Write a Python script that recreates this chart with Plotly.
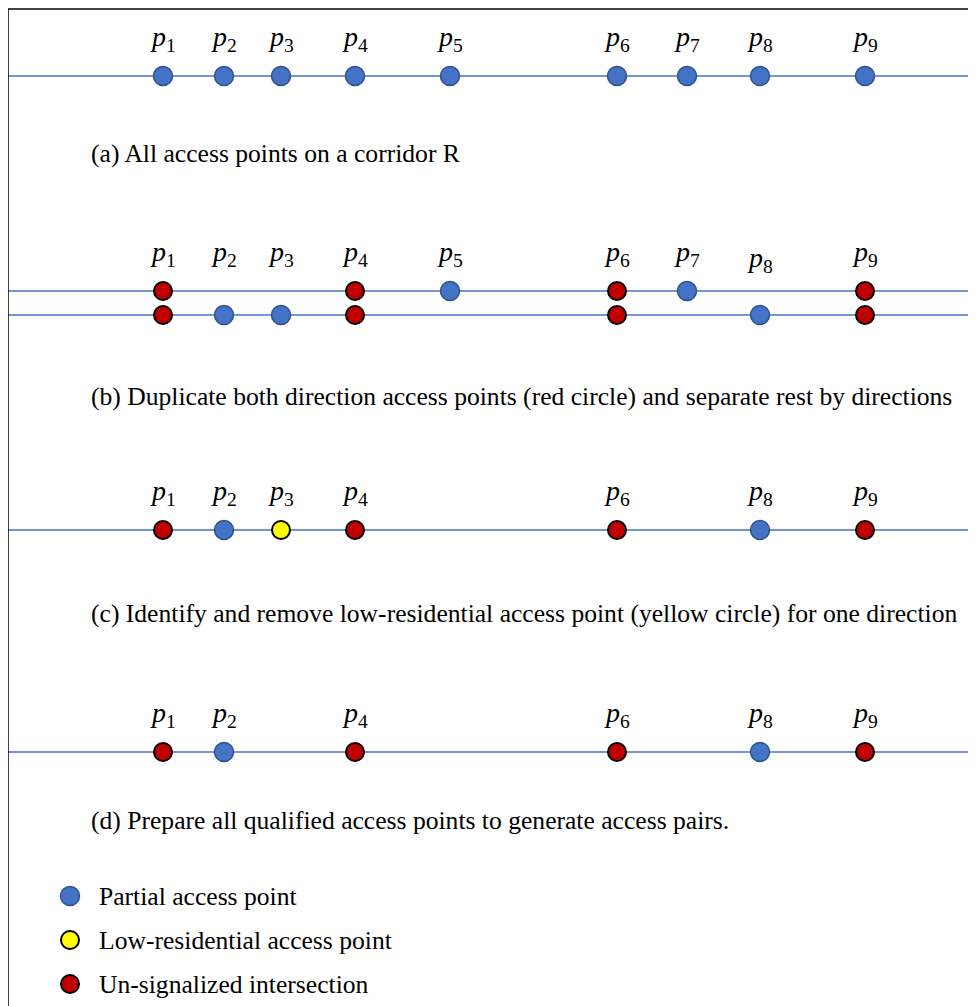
import plotly.graph_objects as go

# ---- data ----
point_ids = [1, 2, 3, 4, 5, 6, 7, 8, 9]
point_pos = [163, 224, 281, 355, 450, 617, 687, 760, 865]

# kind codes: "B" partial (blue), "R" un-signalized (red), "Y" low-residential (yellow)
row_a_ids = [1, 2, 3, 4, 5, 6, 7, 8, 9]
row_a_kind = ["B", "B", "B", "B", "B", "B", "B", "B", "B"]
row_b_up_ids = [1, 4, 5, 6, 7, 9]
row_b_up_kind = ["R", "R", "B", "R", "B", "R"]
row_b_lo_ids = [1, 2, 3, 4, 6, 8, 9]
row_b_lo_kind = ["R", "B", "B", "R", "R", "B", "R"]
row_c_ids = [1, 2, 3, 4, 6, 8, 9]
row_c_kind = ["R", "B", "Y", "R", "R", "B", "R"]
row_d_ids = [1, 2, 4, 6, 8, 9]
row_d_kind = ["R", "B", "R", "R", "B", "R"]

label_a_ids = [1, 2, 3, 4, 5, 6, 7, 8, 9]
label_b_ids = [1, 2, 3, 4, 5, 6, 7, 8, 9]
label_c_ids = [1, 2, 3, 4, 6, 8, 9]
label_d_ids = [1, 2, 4, 6, 8, 9]

captions = [
    "(a) All access points on a corridor R",
    "(b) Duplicate both direction access points (red circle) and separate rest by directions",
    "(c) Identify and remove low-residential access point (yellow circle) for one direction",
    "(d) Prepare all qualified access points to generate access pairs.",
]
legend_kinds = ["B", "Y", "R"]
legend_texts = ["Partial access point", "Low-residential access point", "Un-signalized intersection"]

# ---- layout constants (positions / styles) ----
W, H = 976, 1006
OFF = 8  # page body margin of the browser
line_color = "#4472C4"
styles = {
    "B": dict(color="#4472C4", line=dict(color="#2F528F", width=1.5), size=19),
    "R": dict(color="#C00000", line=dict(color="#000000", width=2), size=18),
    "Y": dict(color="#FFFF00", line=dict(color="#000000", width=2), size=18),
}
rows = [
    (76, row_a_ids, row_a_kind),
    (291, row_b_up_ids, row_b_up_kind),
    (315, row_b_lo_ids, row_b_lo_kind),
    (530, row_c_ids, row_c_kind),
    (752, row_d_ids, row_d_kind),
]
label_rows = [(38, label_a_ids), (253, label_b_ids), (492, label_c_ids), (714, label_d_ids)]
caption_y = [153, 396, 613, 820]
caption_x = 89
legend_y = [896, 940, 984]
legend_mx, legend_tx = 70, 97

pos = dict(zip(point_ids, point_pos))

fig = go.Figure()

# corridor lines
for y, ids, kinds in rows:
    fig.add_trace(go.Scatter(x=[8, W], y=[y, y], mode="lines",
                             line=dict(color=line_color, width=1.5),
                             hoverinfo="skip", showlegend=False))

# points
for y, ids, kinds in rows:
    for k in ["B", "R", "Y"]:
        xs = [pos[i] for i, kk in zip(ids, kinds) if kk == k]
        if not xs:
            continue
        fig.add_trace(go.Scatter(x=xs, y=[y] * len(xs), mode="markers",
                                 marker=styles[k], showlegend=False))

annotations = []
font_p = dict(family="Liberation Serif", size=28, color="#000000")
for y, ids in label_rows:
    for i in ids:
        yy = y + (6 if (y == label_rows[1][0] and i == 8) else 0)
        annotations.append(dict(x=pos[i], y=yy, xref="x", yref="y",
                                text=f"<i>p</i><sub>{i}</sub>", showarrow=False,
                                font=font_p, xanchor="center", yanchor="middle"))

font_c = dict(family="Liberation Serif", size=25.6, color="#000000")
for cy, txt in zip(caption_y, captions):
    annotations.append(dict(x=caption_x, y=cy, xref="x", yref="y", text=txt,
                            showarrow=False, font=font_c, xanchor="left", yanchor="middle"))

# legend
for ly, k, txt in zip(legend_y, legend_kinds, legend_texts):
    fig.add_trace(go.Scatter(x=[legend_mx], y=[ly], mode="markers",
                             marker=styles[k], showlegend=False))
    annotations.append(dict(x=legend_tx, y=ly, xref="x", yref="y", text=txt,
                            showarrow=False, font=font_c, xanchor="left", yanchor="middle"))

# frame (left and top border)
shapes = [
    dict(type="line", x0=8, x1=8, y0=9, y1=H, xref="x", yref="y",
         line=dict(color="#000000", width=1.5)),
    dict(type="line", x0=8, x1=W, y0=9, y1=9, xref="x", yref="y",
         line=dict(color="#000000", width=1.5)),
]

fig.update_layout(
    width=W - OFF, height=H - OFF,
    margin=dict(l=0, r=0, t=0, b=0),
    paper_bgcolor="white", plot_bgcolor="white",
    xaxis=dict(range=[OFF, W], visible=False, fixedrange=True),
    yaxis=dict(range=[H, OFF], visible=False, fixedrange=True),
    annotations=annotations, shapes=shapes,
    showlegend=False,
)

fig.write_html("out.html")
